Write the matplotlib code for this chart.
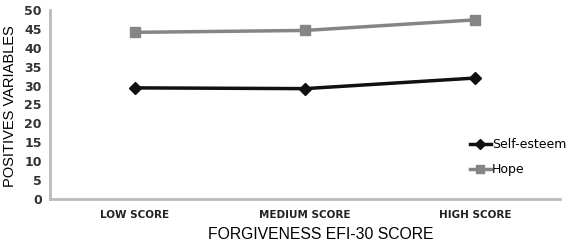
import matplotlib.pyplot as plt

categories = ["LOW SCORE", "MEDIUM SCORE", "HIGH SCORE"]
self_esteem = [29.4, 29.2, 32.0]
hope = [44.1, 44.6, 47.4]
yticks = [0, 5, 10, 15, 20, 25, 30, 35, 40, 45, 50]

fig = plt.figure(figsize=(5.69, 2.45), dpi=100)
ax = fig.add_axes([0.088, 0.188, 0.896, 0.771])

x = range(len(categories))
ax.plot(x, self_esteem, color="#111111", lw=2.5, marker="D", ms=6,
        label="Self-esteem")
ax.plot(x, hope, color="#858585", lw=2.5, marker="s", ms=6.5,
        label="Hope")

ax.set_xlim(-0.5, 2.5)
ax.set_ylim(0, 50)
ax.set_yticks(yticks)
ax.set_xticks(list(x))
ax.set_xticklabels(categories, fontsize=7.5, fontweight="bold", color="#222222")
ax.tick_params(axis="y", labelsize=9, colors="#333333", length=0, pad=6)
for t in ax.get_yticklabels():
    t.set_fontweight("semibold")
ax.tick_params(axis="x", length=0, pad=8)

for s in ["top", "right"]:
    ax.spines[s].set_visible(False)
for s in ["left", "bottom"]:
    ax.spines[s].set_color("#bbbbbb")
    ax.spines[s].set_linewidth(2)

ax.set_ylabel("POSITIVES VARIABLES", fontsize=10.5, family="Liberation Sans")
ax.yaxis.set_label_coords(-0.064, 0.49)
ax.set_xlabel("FORGIVENESS EFI-30 SCORE", fontsize=11.3, family="Liberation Sans")
ax.xaxis.set_label_coords(0.53, -0.15)

ax.legend(loc="lower right", bbox_to_anchor=(1.035, 0.06), frameon=False,
          fontsize=9, handlelength=1.7, handletextpad=0.1, labelspacing=0.95,
          markerscale=0.8)

fig.savefig("out.png", dpi=100)
